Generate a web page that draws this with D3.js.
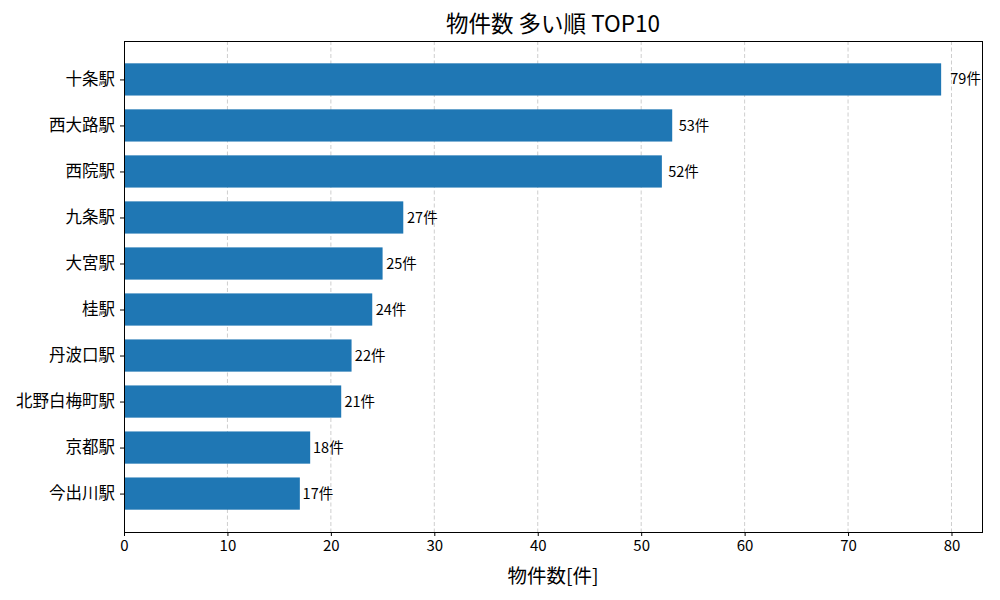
<!DOCTYPE html>
<html lang="ja">
<head>
<meta charset="utf-8">
<title>物件数 多い順 TOP10</title>
<script src="https://cdn.jsdelivr.net/npm/d3@7"></script>
<style>
  body { margin: 0; background: #fff; }
  text { font-family: "Noto Sans CJK JP", "Noto Sans", sans-serif; fill: #000; }
</style>
</head>
<body>
<script>
// data
var stations = ["十条駅", "西大路駅", "西院駅", "九条駅", "大宮駅", "桂駅", "丹波口駅", "北野白梅町駅", "京都駅", "今出川駅"];
var counts = [79, 53, 52, 27, 25, 24, 22, 21, 18, 17];
var xTicks = [0, 10, 20, 30, 40, 50, 60, 70, 80];

var w = 1000, h = 600;
var pLeft = 124, pRight = 982, pTop = 41, pBottom = 532;

var svg = d3.select("body").append("svg")
    .attr("width", w)
    .attr("height", h);

// x scale with matplotlib-like 5% margin
var xMax = d3.max(counts) * 1.05;
var xScale = d3.scaleLinear().domain([0, xMax]).range([pLeft, pRight]);

// y: category index, bar height 0.7, 5% margins
var yScale = d3.scaleLinear().domain([-0.835, 9.835]).range([pTop, pBottom]);
var barH = yScale(0.7) - yScale(0);

// grid lines (behind bars)
svg.append("g").selectAll("line")
    .data(xTicks.filter(function(d) { return d > 0; }))
    .enter().append("line")
    .attr("x1", function(d) { return xScale(d); })
    .attr("x2", function(d) { return xScale(d); })
    .attr("y1", pTop)
    .attr("y2", pBottom)
    .attr("stroke", "#c8c8c8")
    .attr("stroke-width", 0.9)
    .attr("stroke-dasharray", "4,2.5");

// bars
svg.append("g").selectAll("rect")
    .data(counts)
    .enter().append("rect")
    .attr("x", xScale(0))
    .attr("y", function(d, i) { return yScale(i) - barH / 2; })
    .attr("width", function(d) { return xScale(d) - xScale(0); })
    .attr("height", barH)
    .attr("fill", "#1f77b4");

// value labels
svg.append("g").selectAll("text")
    .data(counts)
    .enter().append("text")
    .attr("x", function(d) { return xScale(d * 1.01) + 1; })
    .attr("y", function(d, i) { return yScale(i); })
    .attr("dy", "0.35em")
    .attr("font-size", "14.5px")
    .text(function(d) { return d + "件"; });

// frame
svg.append("rect")
    .attr("x", pLeft).attr("y", pTop)
    .attr("width", pRight - pLeft).attr("height", pBottom - pTop)
    .attr("fill", "none")
    .attr("stroke", "#000")
    .attr("stroke-width", 1)
    .attr("shape-rendering", "crispEdges");

// x axis
var xAxis = svg.append("g")
    .attr("transform", "translate(0," + pBottom + ")")
    .call(d3.axisBottom(xScale).tickValues(xTicks).tickSize(4).tickPadding(4).tickSizeOuter(0));
xAxis.attr("font-size", null).attr("font-family", null);
xAxis.select(".domain").remove();
xAxis.selectAll("text").style("font-size", "15px");

// y axis
var yAxis = svg.append("g")
    .attr("transform", "translate(" + pLeft + ",0)")
    .call(d3.axisLeft(yScale).tickValues(d3.range(stations.length))
        .tickFormat(function(i) { return stations[i]; })
        .tickSize(4).tickPadding(5).tickSizeOuter(0));
yAxis.attr("font-size", null).attr("font-family", null);
yAxis.select(".domain").remove();
yAxis.selectAll("text").style("font-size", "16.5px");

// title
svg.append("text")
    .attr("x", (pLeft + pRight) / 2)
    .attr("y", 32)
    .attr("text-anchor", "middle")
    .attr("font-size", "22.5px")
    .text("物件数 多い順 TOP10");

// x label
svg.append("text")
    .attr("x", (pLeft + pRight) / 2)
    .attr("y", 583)
    .attr("text-anchor", "middle")
    .attr("font-size", "19.5px")
    .text("物件数[件]");
</script>
</body>
</html>
